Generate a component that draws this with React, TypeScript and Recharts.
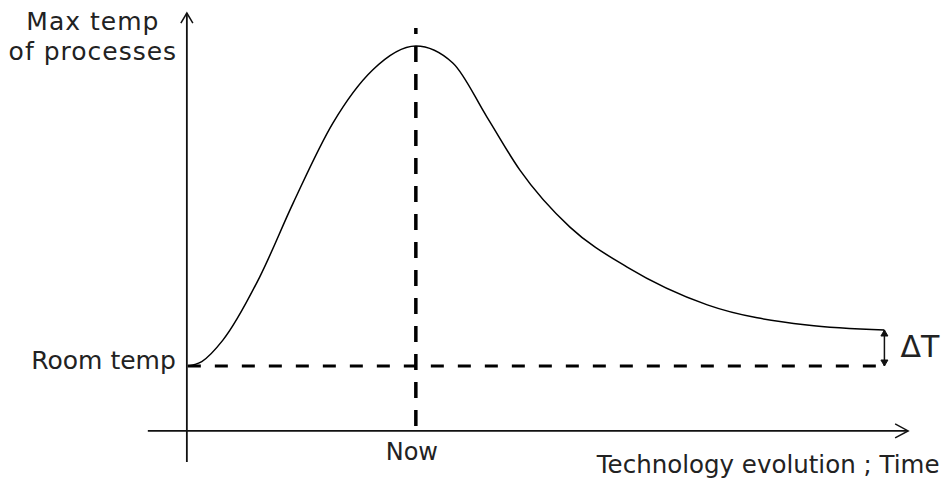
import { ComposedChart, Line, XAxis, YAxis, ReferenceLine } from "recharts";

// curve: time (0 = start, 100 = end) vs temp (0 = room temp, 100 = peak)
const time = [0, 2, 5, 10.3, 15.1, 20.8, 26.5, 32.7, 38.0, 42.9, 47.6, 54.8, 63.0, 74.5, 88.8, 99.9];
const temp = [0, 1.4, 8, 27.8, 50.9, 75.9, 92.5, 100, 94.7, 77.8, 61.3, 43.4, 30.9, 19.1, 12.8, 11.25];

const nowTime = 32.7;
const roomTemp = 0;
const endTemp = 11.25;
const endTime = 99.9;

const xDomain = [-6, 104];
const yDomain = [-30, 110];

const data = time.map((t, i) => ({ t, temp: temp[i] }));

const font = "'DejaVu Sans', Verdana, sans-serif";
const ink = "#222";

function head(x1: number, y1: number, x2: number, y2: number, len: number, half: number) {
  const dx = x2 - x1;
  const dy = y2 - y1;
  const d = Math.hypot(dx, dy) || 1;
  const ux = dx / d;
  const uy = dy / d;
  const bx = x2 - ux * len;
  const by = y2 - uy * len;
  return `M${bx - uy * half},${by + ux * half} L${x2},${y2} L${bx + uy * half},${by - ux * half}`;
}

const arrowLine = (len: number, half: number) => (props: any) => {
  const { x1, y1, x2, y2 } = props;
  return (
    <g>
      <line x1={x1} y1={y1} x2={x2} y2={y2} stroke="#111" strokeWidth={1.8} />
      <path d={head(x1, y1, x2, y2, len, half)} fill="none" stroke="#111" strokeWidth={1.5} />
    </g>
  );
};

const deltaShape = (props: any) => {
  const { x1, y1, x2, y2 } = props;
  return (
    <g>
      <line x1={x1} y1={y1} x2={x2} y2={y2} stroke="#111" strokeWidth={1.5} />
      <path d={head(x1, y1, x2, y2, 6, 3.5) + "Z"} fill="#111" stroke="#111" strokeWidth={1} />
      <path d={head(x2, y2, x1, y1, 6, 3.5) + "Z"} fill="#111" stroke="#111" strokeWidth={1} />
    </g>
  );
};

export default function App() {
  return (
    <div style={{ position: "fixed", left: 0, top: 0, background: "#fff" }}>
      <ComposedChart
        width={952}
        height={482}
        data={data}
        margin={{ top: 14, right: 39, bottom: 20, left: 146 }}
      >
        <XAxis type="number" dataKey="t" domain={xDomain} allowDataOverflow hide />
        <YAxis type="number" domain={yDomain} allowDataOverflow hide />

        {/* x axis */}
        <ReferenceLine
          segment={[{ x: -5.74, y: -20.3 }, { x: 103.3, y: -20.3 }]}
          ifOverflow="visible"
          shape={arrowLine(13, 7)}
          label={{
            content: ({ viewBox }: any) => (
              <text x={viewBox.x + 449} y={viewBox.y + 42} fontFamily={font} fontSize={24.5} fill={ink}>
                Technology evolution ; Time
              </text>
            ),
          }}
        />
        {/* y axis */}
        <ReferenceLine
          segment={[{ x: -0.14, y: yDomain[0] }, { x: -0.14, y: 110.3 }]}
          ifOverflow="visible"
          shape={arrowLine(10, 6)}
          label={{
            content: ({ viewBox }: any) => (
              <text fontFamily={font} fontSize={25} fill={ink} textAnchor="middle" letterSpacing={1}>
                <tspan x={viewBox.x - 94} y={viewBox.y + 17}>Max temp</tspan>
                <tspan x={viewBox.x - 94} y={viewBox.y + 47}>of processes</tspan>
              </text>
            ),
          }}
        />

        {/* room temp */}
        <ReferenceLine
          segment={[{ x: 0, y: roomTemp }, { x: 100.3, y: roomTemp }]}
          ifOverflow="visible"
          stroke="#000"
          strokeWidth={3}
          strokeDasharray="13 14"
          label={{
            content: ({ viewBox }: any) => (
              <text x={viewBox.x - 12} y={viewBox.y + 3} fontFamily={font} fontSize={25} fill={ink} textAnchor="end">
                Room temp
              </text>
            ),
          }}
        />
        {/* now */}
        <ReferenceLine
          segment={[{ x: nowTime, y: -18.75 }, { x: nowTime, y: 105.6 }]}
          ifOverflow="visible"
          stroke="#000"
          strokeWidth={3.5}
          strokeDasharray="16 12"
          label={{
            content: ({ viewBox }: any) => (
              <text x={viewBox.x - 4} y={viewBox.y + viewBox.height + 34} fontFamily={font} fontSize={24} fill={ink} textAnchor="middle">
                Now
              </text>
            ),
          }}
        />
        {/* delta T */}
        <ReferenceLine
          segment={[{ x: endTime, y: roomTemp }, { x: endTime, y: endTemp }]}
          ifOverflow="visible"
          shape={deltaShape}
          label={{
            content: ({ viewBox }: any) => (
              <text x={viewBox.x + 16} y={viewBox.y + 27} fontFamily={font} fontSize={30} fill={ink}>
                ΔT
              </text>
            ),
          }}
        />

        <Line
          type="monotone"
          dataKey="temp"
          stroke="#000"
          strokeWidth={1.5}
          dot={false}
          activeDot={false}
          isAnimationActive={false}
        />
      </ComposedChart>
    </div>
  );
}
